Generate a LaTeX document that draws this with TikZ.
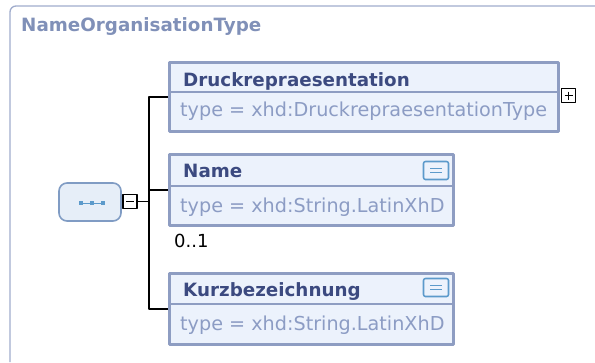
\documentclass[tikz,border=0pt]{standalone}
\usepackage{fontspec}
\setmainfont{DejaVu Sans}
\definecolor{framecol}{RGB}{160,172,204}
\definecolor{titlecol}{RGB}{128,144,184}
\definecolor{boxfill}{RGB}{236,242,252}
\definecolor{boxline}{RGB}{142,157,194}
\definecolor{headcol}{RGB}{60,74,128}
\definecolor{typecol}{RGB}{140,156,196}
\definecolor{seqfill}{RGB}{230,238,248}
\definecolor{seqline}{RGB}{128,156,196}
\definecolor{iconcol}{RGB}{92,154,203}

\tikzset{
  elembox/.style={draw=boxline,fill=boxfill,line width=3pt,inner sep=0pt},
  divline/.style={boxline,line width=1.5pt},
  headtext/.style={font=\fontsize{18.3}{21}\selectfont\bfseries,text=headcol,anchor=base west,inner sep=0pt},
  typetext/.style={font=\fontsize{19.2}{22}\selectfont,text=typecol,anchor=base west,inner sep=0pt},
  cardtext/.style={font=\fontsize{18}{21}\selectfont,anchor=base west,inner sep=0pt},
  docicon/.style={draw=iconcol,fill=boxfill,line width=1.6pt,rounded corners=2pt,minimum width=25pt,minimum height=18pt,inner sep=0pt},
  togglebox/.style={draw=black,fill=white,line width=1.5pt,minimum size=14pt,inner sep=0pt},
  conn/.style={black,line width=1.5pt},
}

\begin{document}
\begin{tikzpicture}[x=1pt,y=-1pt,line join=round]
\useasboundingbox (0,0) rectangle (595,362);
% outer frame
\draw[framecol,line width=1.3pt,rounded corners=6pt] (10,362) -- (10,6) -- (595,6);
\node[headtext,text=titlecol] (typetitle) at (21,31) {NameOrganisationType};

% sequence compositor
\node[draw=seqline,fill=seqfill,line width=1.6pt,rounded corners=8pt,minimum width=62pt,minimum height=38pt,inner sep=0pt] (seq) at (90,202) {};
\draw[iconcol,line width=1pt] (81,203) -- (103,203);
\foreach \dx in {81,92,103}
  \fill[iconcol] (\dx-2.3,200.7) rectangle (\dx+2.3,205.3);
\node[togglebox] (seqtoggle) at (130,201.5) {};
\draw[black,line width=1.5pt] (126,201.5) -- (134,201.5);

% element Druckrepraesentation
\node[elembox,minimum width=389pt,minimum height=69pt] (druck) at (364,97) {};
\draw[divline] (168,92) -- (560,92);
\node[headtext] (druckhead) at (183,86) {Druckrepraesentation};
\node[typetext] (drucktype) at (180,116) {type = xhd:DruckrepraesentationType};
\node[togglebox] (drucktoggle) at (568.5,95.5) {};
\draw[black,line width=1.5pt] (564.5,95.5) -- (572.5,95.5) (568.5,91.5) -- (568.5,99.5);

% element Name
\node[elembox,minimum width=284pt,minimum height=71pt] (name) at (311.5,190) {};
\draw[divline] (168,186) -- (455,186);
\node[headtext] (namehead) at (183,177) {Name};
\node[typetext] (nametype) at (180,212) {type = xhd:String.LatinXhD};
\node[docicon] (nameicon) at (436,170.5) {};
\draw[iconcol,line width=1.3pt] (430,168.5) -- (442,168.5) (430,172.5) -- (442,172.5);
\node[cardtext] (namecard) at (174,247) {0..1};

% element Kurzbezeichnung
\node[elembox,minimum width=284pt,minimum height=71pt] (kurz) at (311.5,309) {};
\draw[divline] (168,304) -- (455,304);
\node[headtext] (kurzhead) at (183,296) {Kurzbezeichnung};
\node[typetext] (kurztype) at (180,330) {type = xhd:String.LatinXhD};
\node[docicon] (kurzicon) at (436,287.5) {};
\draw[iconcol,line width=1.3pt] (430,285.5) -- (442,285.5) (430,289.5) -- (442,289.5);

% connectors
\coordinate (bus) at (149,201.5);
\draw[conn] (seqtoggle.east) -- (bus);
\draw[conn] (druck.west) -| (bus) |- (kurz.west);
\draw[conn] (bus |- name.west) -- (name.west);
\end{tikzpicture}
\end{document}
